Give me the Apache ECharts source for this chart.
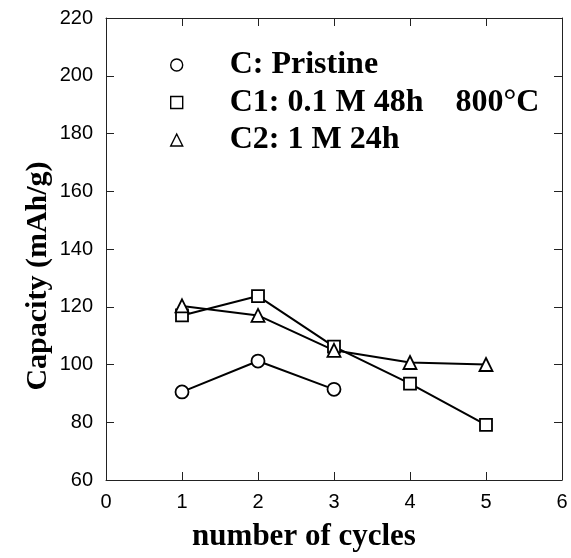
<!DOCTYPE html>
<html>
<head>
<meta charset="utf-8">
<script src="https://cdn.jsdelivr.net/npm/echarts@6/dist/echarts.min.js"></script>
<style>
  html, body { margin: 0; padding: 0; background: #fff; }
  #main { width: 571px; height: 558px; }
</style>
</head>
<body>
<div id="main"></div>
<script>
// 数据
var cycles = [1, 2, 3, 4, 5];
var pristine = [90.5, 101.2, 91.4];
var c1 = [117.0, 123.7, 106.2, 93.4, 79.1];
var c2 = [120.3, 117.0, 104.9, 100.7, 100.0];
var names = ['C: Pristine', 'C1: 0.1 M 48h    800°C', 'C2: 1 M 24h'];
var symbols = ['circle', 'rect', 'triangle'];

function pairs(vals) {
    var out = [];
    for (var i = 0; i < vals.length; i++) {
        out.push([cycles[i], vals[i]]);
    }
    return out;
}

var myChart = echarts.init(document.getElementById('main'));

function tickLabel(margin) {
    return { show: true, margin: margin, color: '#000', fontFamily: 'Liberation Sans', fontSize: 20 };
}
function frameLine() {
    return { show: true, onZero: false, lineStyle: { color: '#222', width: 1 } };
}
// 刻度朝内
function inTick() {
    return { show: true, inside: true, length: 8, lineStyle: { color: '#222', width: 1 } };
}

function makeSeries(idx, vals, size) {
    return {
        name: names[idx],
        type: 'line',
        data: pairs(vals),
        symbol: symbols[idx],
        symbolSize: size,
        lineStyle: { color: '#000', width: 2 },
        itemStyle: { color: '#fff', borderColor: '#000', borderWidth: 1.8 },
        z: 3
    };
}

option = {
    animation: false,
    backgroundColor: '#fff',
    grid: { left: 106, right: 9, top: 18, bottom: 78 },
    legend: {
        orient: 'vertical',
        left: 165,
        top: 44,
        itemWidth: 12,
        itemHeight: 12,
        itemGap: 5.5,
        symbolKeepAspect: true,
        data: [
            { name: names[0], icon: 'circle' },
            { name: names[1], icon: 'rect' },
            { name: names[2], icon: 'triangle' }
        ],
        itemStyle: { color: '#fff', borderColor: '#000', borderWidth: 1.4 },
        lineStyle: { width: 0 },
        textStyle: {
            color: '#000',
            fontFamily: 'Liberation Serif',
            fontWeight: 'bold',
            fontSize: 32,
            lineHeight: 32,
            padding: [0, 0, 0, 42]
        }
    },
    xAxis: [
        {
            type: 'value', min: 0, max: 6, interval: 1,
            axisLine: frameLine(), axisTick: inTick(),
            axisLabel: tickLabel(12),
            splitLine: { show: false }
        },
        {
            type: 'value', position: 'top', min: 0, max: 6, interval: 1,
            axisLine: frameLine(), axisTick: inTick(),
            axisLabel: { show: false }, splitLine: { show: false }
        }
    ],
    yAxis: [
        {
            type: 'value', min: 60, max: 220, interval: 20,
            axisLine: frameLine(), axisTick: inTick(),
            axisLabel: tickLabel(13),
            splitLine: { show: false }
        },
        {
            type: 'value', position: 'right', min: 60, max: 220, interval: 20,
            axisLine: frameLine(), axisTick: inTick(),
            axisLabel: { show: false }, splitLine: { show: false }
        }
    ],
    graphic: [
        {
            type: 'text', x: 304, y: 537,
            style: {
                text: 'number of cycles', fill: '#000',
                font: 'bold 31px "Liberation Serif"',
                textAlign: 'center', textVerticalAlign: 'middle'
            }
        },
        {
            type: 'text', x: 38, y: 276, rotation: Math.PI / 2,
            style: {
                text: 'Capacity (mAh/g)', fill: '#000',
                font: 'bold 30px "Liberation Serif"',
                textAlign: 'center', textVerticalAlign: 'middle'
            }
        }
    ],
    series: [
        makeSeries(0, pristine, 13),
        makeSeries(1, c1, 12),
        makeSeries(2, c2, 13)
    ]
};
myChart.setOption(option);
</script>
</body>
</html>
